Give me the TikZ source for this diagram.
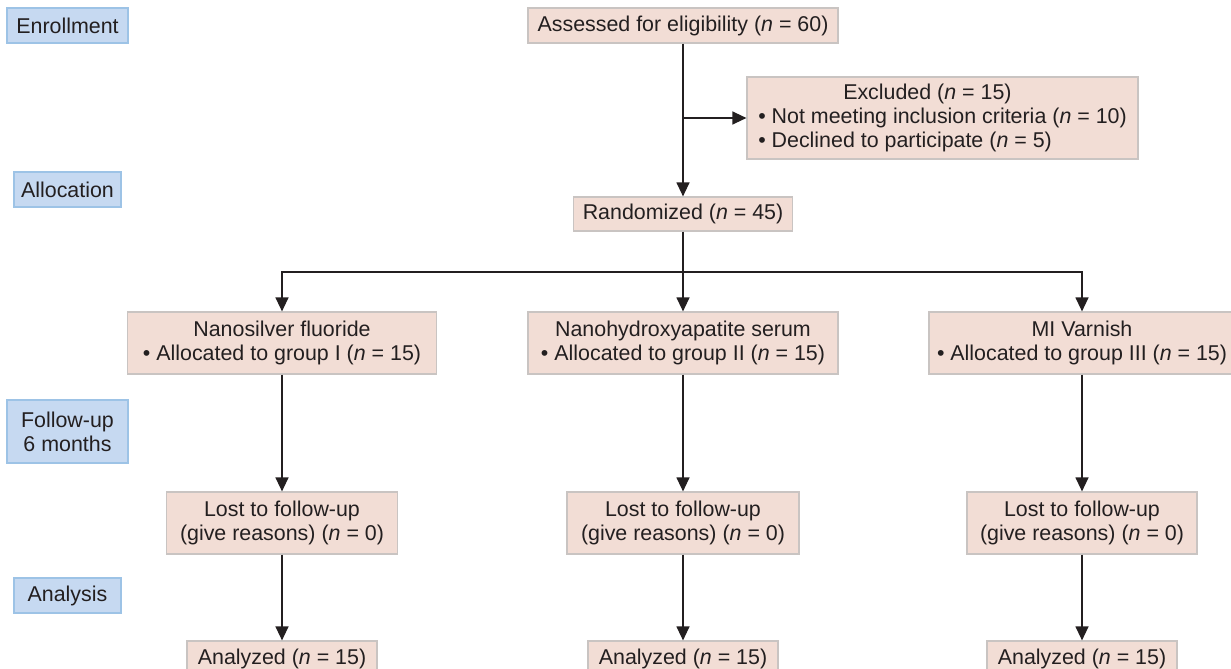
\documentclass[tikz,border=0pt]{standalone}
\usepackage{fontspec}
\setmainfont{Liberation Sans}
\usetikzlibrary{arrows.meta}
\definecolor{txt}{HTML}{231F20}
\definecolor{pinkfill}{HTML}{F2DDD5}
\definecolor{pinkline}{HTML}{C9C4C2}
\definecolor{bluefill}{HTML}{C6D9F1}
\definecolor{blueline}{HTML}{9DC3E6}
\tikzset{
  stage/.style={draw=blueline, fill=bluefill, line width=1.2pt, inner sep=0pt, align=center, text=txt},
  flowbox/.style={draw=pinkline, fill=pinkfill, line width=1.2pt, inner sep=0pt, align=center, text=txt},
  arr/.style={draw=txt, line width=1.3pt, -{Triangle[length=14pt,width=13pt]}},
  ln/.style={draw=txt, line width=1.3pt}
}
\begin{document}
\begin{tikzpicture}[x=1pt,y=-1pt,font=\fontsize{21.4}{24}\selectfont]
\useasboundingbox (0,0) rectangle (1231,669);
\clip (0,0) rectangle (1231,669);
% stage labels
\node[stage, minimum width=121pt, minimum height=35pt] (enr) at (67.5,25.5) {Enrollment};
\node[stage, minimum width=107pt, minimum height=35pt] (alloc) at (67.5,189.5) {Allocation};
\node[stage, minimum width=121pt, minimum height=63pt] (fu) at (67.5,431.5) {Follow-up\\6 months};
\node[stage, minimum width=107pt, minimum height=35pt] (ana) at (67.5,595.5) {Analysis};
% main flow
\node[flowbox, minimum width=310pt, minimum height=35pt] (assess) at (683,25.5) {Assessed for eligibility (\textit{n} = 60)};
\node[flowbox, minimum width=391pt, minimum height=82pt, align=left] (excl) at (942.5,118) {\hspace*{85pt}Excluded (\textit{n} = 15)\\• Not meeting inclusion criteria (\textit{n} = 10)\\• Declined to participate (\textit{n} = 5)};
\node[flowbox, minimum width=219pt, minimum height=34pt] (rand) at (683,214) {Randomized (\textit{n} = 45)};
% groups
\node[flowbox, minimum width=309pt, minimum height=62pt] (g1) at (282,343) {Nanosilver fluoride\\• Allocated to group I (\textit{n} = 15)};
\node[flowbox, minimum width=310pt, minimum height=62pt] (g2) at (683,343) {Nanohydroxyapatite serum\\• Allocated to group II (\textit{n} = 15)};
\node[flowbox, minimum width=306pt, minimum height=62pt] (g3) at (1082,343) {MI Varnish\\• Allocated to group III (\textit{n} = 15)};
% lost
\node[flowbox, minimum width=231pt, minimum height=62pt] (l1) at (282,523) {Lost to follow-up\\(give reasons) (\textit{n} = 0)};
\node[flowbox, minimum width=232pt, minimum height=62pt] (l2) at (683,523) {Lost to follow-up\\(give reasons) (\textit{n} = 0)};
\node[flowbox, minimum width=230pt, minimum height=62pt] (l3) at (1082,523) {Lost to follow-up\\(give reasons) (\textit{n} = 0)};
% analyzed
\node[flowbox, minimum width=190pt, minimum height=35pt] (a1) at (282,658.5) {Analyzed (\textit{n} = 15)};
\node[flowbox, minimum width=190pt, minimum height=35pt] (a2) at (683,658.5) {Analyzed (\textit{n} = 15)};
\node[flowbox, minimum width=190pt, minimum height=35pt] (a3) at (1082,658.5) {Analyzed (\textit{n} = 15)};
% connectors
\coordinate (ex) at (683,118);
\coordinate (br) at (683,272);
\draw[arr] (assess.south) -- (rand.north);
\draw[arr] (ex) -- (excl.west);
\draw[ln] (rand.south) -- (br);
\draw[arr] (br) -| (g1.north);
\draw[arr] (br) -- (g2.north);
\draw[arr] (br) -| (g3.north);
\draw[arr] (g1.south) -- (l1.north);
\draw[arr] (g2.south) -- (l2.north);
\draw[arr] (g3.south) -- (l3.north);
\draw[arr] (l1.south) -- (a1.north);
\draw[arr] (l2.south) -- (a2.north);
\draw[arr] (l3.south) -- (a3.north);
\end{tikzpicture}
\end{document}
